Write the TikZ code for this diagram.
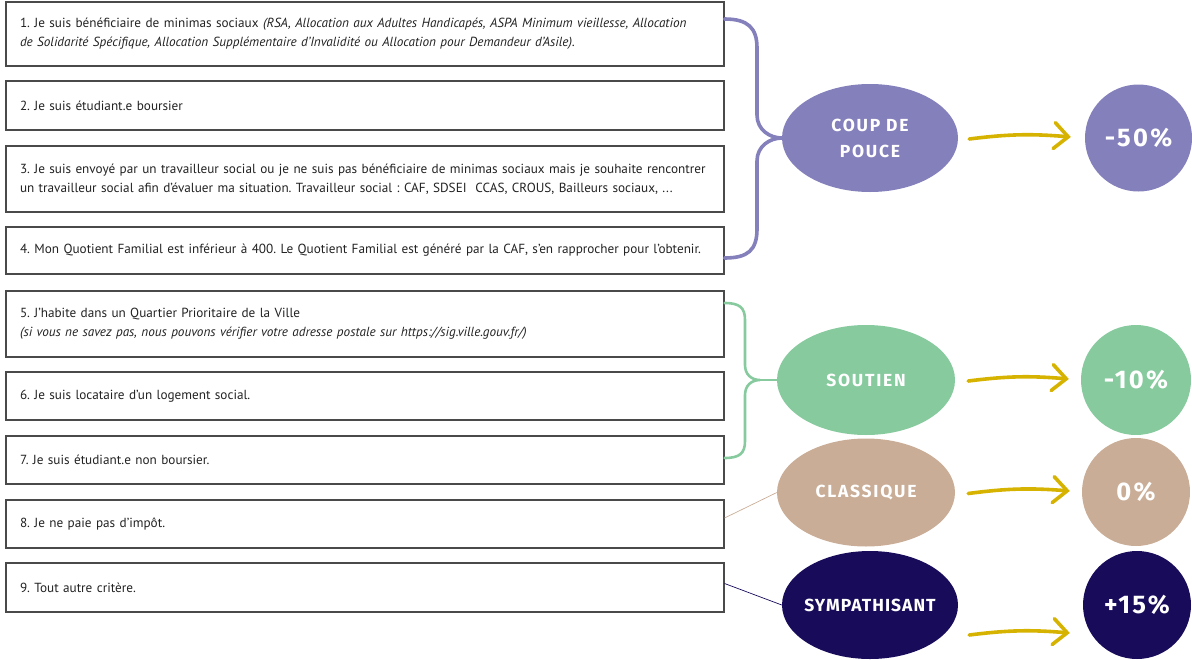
\documentclass[tikz,border=0pt]{standalone}
\usepackage{fontspec}
\setmainfont{PT Sans}
\newfontfamily\labelfont{Fira Sans}[LetterSpace=10]
\newfontfamily\pctfont{Fira Sans}[LetterSpace=9]
\usetikzlibrary{arrows.meta,shapes.geometric}
\definecolor{cpurple}{HTML}{8480BB}
\definecolor{cgreen}{HTML}{86CA9E}
\definecolor{ctan}{HTML}{C9AD97}
\definecolor{cnavy}{HTML}{180C5A}
\definecolor{cyellow}{HTML}{D6B300}
\definecolor{cborder}{HTML}{4A4A4A}
\definecolor{ctext}{HTML}{222222}
\newcommand{\zc}[1]{\makebox[0pt][c]{#1}}
\begin{document}
\frenchspacing
\begin{tikzpicture}[x=1pt,y=-1pt,
  critbox/.style={draw=cborder, line width=1.1pt, rectangle, minimum width=718pt,
    text width=690pt, inner xsep=14pt, inner ysep=0pt, align=left, text=ctext,
    font=\fontsize{13.2}{19}\selectfont},
  catell/.style={ellipse, minimum width=176pt, minimum height=108pt, inner sep=0pt,
    text=white, align=center, font=\labelfont\bfseries\fontsize{17.5}{26}\selectfont},
  pct/.style={circle, minimum size=108pt, inner sep=0pt, text=white,
    font=\pctfont\bfseries\fontsize{25.5}{26}\selectfont},
  yarr/.style={draw=cyellow, line width=3.6pt, line cap=round, line join=round,
    -{Straight Barb[length=14pt,width=26pt,line cap=round]}},
]
\useasboundingbox (0,0) rectangle (1192,659);

% criteria boxes
\node[critbox, minimum height=64pt] (b1) at (365,34) {\mbox{1. Je suis bénéficiaire de minimas sociaux \textit{(RSA, Allocation aux Adultes Handicapés, ASPA Minimum vieillesse, Allocation}}\\ \mbox{\textit{de Solidarité Spécifique, Allocation Supplémentaire d’Invalidité ou Allocation pour Demandeur d’Asile).}}};
\node[critbox, minimum height=49pt] (b2) at (365,105.5) {2. Je suis étudiant.e boursier};
\node[critbox, minimum height=66pt] (b3) at (365,179) {\mbox{3. Je suis envoyé par un travailleur social ou je ne suis pas bénéficiaire de minimas sociaux mais je souhaite rencontrer}\\ \mbox{un travailleur social afin d’évaluer ma situation. Travailleur social : CAF, SDSEI\ \ CCAS, CROUS, Bailleurs sociaux, ...}};
\node[critbox, minimum height=47pt] (b4) at (365,250.5) {\mbox{4. Mon Quotient Familial est inférieur à 400. Le Quotient Familial est généré par la CAF, s’en rapprocher pour l’obtenir.}};
\node[critbox, minimum height=66pt] (b5) at (365,324) {5. J’habite dans un Quartier Prioritaire de la Ville\\ \mbox{\textit{(si vous ne savez pas, nous pouvons vérifier votre adresse postale sur https://sig.ville.gouv.fr/)}}};
\node[critbox, minimum height=48pt] (b6) at (365,396) {6. Je suis locataire d’un logement social.};
\node[critbox, minimum height=48pt] (b7) at (365,460) {7. Je suis étudiant.e non boursier.};
\node[critbox, minimum height=48pt] (b8) at (365,524) {8. Je ne paie pas d’impôt.};
\node[critbox, minimum height=49pt] (b9) at (365,587.5) {9. Tout autre critère.};

% categories
\node[catell, fill=cpurple] (e1) at (870,138) {\zc{COUP DE}\\\zc{POUCE}};
\node[catell, fill=cgreen, minimum width=178pt, minimum height=110pt] (e2) at (866,380) {\zc{SOUTIEN}};
\node[catell, fill=ctan, minimum width=178pt] (e3) at (866,492.5) {\zc{CLASSIQUE}};
\node[catell, fill=cnavy] (e4) at (870,605) {\zc{\addfontfeature{LetterSpace=6}SYMPATHISANT}};

% percentages
\node[pct, fill=cpurple, minimum size=107pt] (c1) at (1138.5,138) {\zc{-50\%}};
\node[pct, fill=cgreen, minimum size=110pt] (c2) at (1136,380) {\zc{-10\%}};
\node[pct, fill=ctan] (c3) at (1136,492) {\zc{0\%}};
\node[pct, fill=cnavy] (c4) at (1137,605) {\zc{+15\%}};

% braces
\draw[cpurple, line width=3.6pt, line cap=round]
  ([yshift=15pt]b1.east) .. controls (748,19) and (757,28) .. (757,48)
  -- (757,115) .. controls (757,130) and (770,138) .. (e1.west)
  .. controls (770,138) and (757,146) .. (757,161)
  -- (757,229) .. controls (757,250) and (748,258) .. ([yshift=-7.5pt]b4.east);
\coordinate (gtip) at (760,380);
\draw[cgreen, line width=2.6pt, line cap=round]
  ([yshift=21pt]b5.east) .. controls (740,303) and (745,308) .. (745,320)
  -- (745,365) .. controls (745,375) and (752,380) .. (gtip)
  .. controls (752,380) and (745,385) .. (745,395)
  -- (745,441) .. controls (745,453) and (740,458) .. ([yshift=2pt]b7.east);
\draw[cgreen, line width=1.6pt] (gtip) -- (e2.west);

% thin connectors
\draw[ctan, line width=0.7pt] ([yshift=6pt]b8.east) -- (e3.west);
\draw[cnavy, line width=0.7pt] ([yshift=4pt]b9.east) -- (e4.west);

% arrows
\draw[yarr] ([shift={(11pt,-1pt)}]e1.east) to[bend left=6] ([shift={(-14pt,1pt)}]c1.west);
\draw[yarr] ([shift={(13pt,-1pt)}]e2.east) to[bend left=6] ([shift={(-12pt,1pt)}]c2.west);
\draw[yarr] ([shift={(13pt,-1pt)}]e3.east) to[bend left=6] ([shift={(-12pt,1pt)}]c3.west);
\draw[yarr] ([shift={(11pt,-30pt)}]e4.east) to[bend left=6] ([shift={(-13pt,-28pt)}]c4.west);
\end{tikzpicture}
\end{document}
